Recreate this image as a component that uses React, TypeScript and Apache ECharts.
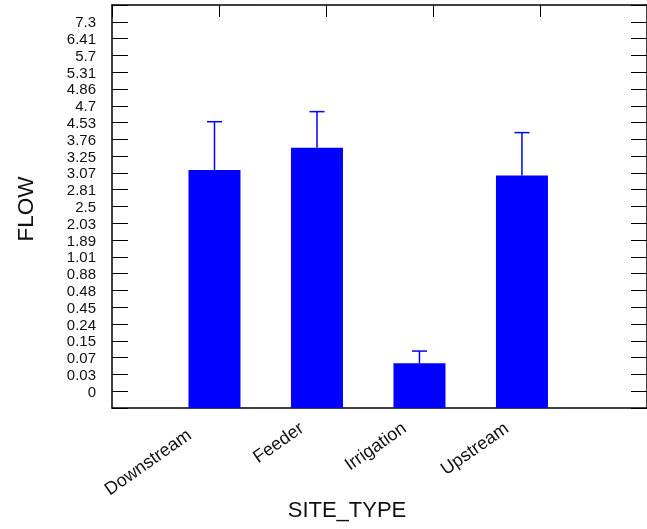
import React, { useEffect, useRef } from "react";
import * as echarts from "echarts";

const categories = ["Downstream", "Feeder", "Irrigation", "Upstream"];
const yTickLabels = [
  "0", "0.03", "0.07", "0.15", "0.24", "0.45", "0.48", "0.88", "1.01", "1.89",
  "2.03", "2.5", "2.81", "3.07", "3.25", "3.76", "4.53", "4.7", "4.86", "5.31",
  "5.7", "6.41", "7.3",
];
// bar tops and error-bar tops, on the ordinal FLOW scale (0 = first tick label)
const barRanks = [13.17, 14.5, 1.66, 12.84];
const errorTopRanks = [16.05, 16.65, 2.39, 15.4];

const FONT = "Liberation Sans, Arial, Helvetica, sans-serif";
const BLUE = "#0000ff";
const RANK_OFFSET = 1; // axis starts one step below the first label

export default function App() {
  const ref = useRef<HTMLDivElement>(null);
  useEffect(() => {
    if (!ref.current) return;
    const chart = echarts.init(ref.current, null, { renderer: "svg" });
    const yMax = yTickLabels.length + 1;
    const barData = categories.map((_, i) => [i + 1, barRanks[i] + RANK_OFFSET]);
    const errData = categories.map((_, i) => [
      i + 1,
      barRanks[i] + RANK_OFFSET,
      errorTopRanks[i] + RANK_OFFSET,
    ]);
    const yLabelFmt = (v: number) => {
      const idx = Math.round(v) - RANK_OFFSET;
      return idx >= 0 && idx < yTickLabels.length && Math.abs(v - Math.round(v)) < 1e-6
        ? yTickLabels[idx]
        : "";
    };
    const axisLine = { show: true, onZero: false, lineStyle: { color: "#000", width: 1.5 } };
    chart.setOption({
      animation: false,
      grid: { left: 112, top: 5, width: 539, height: 403, containLabel: false },
      xAxis: [
        {
          type: "value",
          position: "bottom",
          min: 0,
          max: 5.22,
          interval: 1,
          splitLine: { show: false },
          axisTick: { show: false },
          axisLine,
          axisLabel: {
            show: true,
            rotate: 35,
            margin: 7,
            padding: [0, 19, 0, 0],
            fontSize: 18,
            fontFamily: FONT,
            color: "#111",
            showMinLabel: false,
            showMaxLabel: false,
            rich: {
              first: { fontSize: 18, fontFamily: FONT, color: "#111", padding: [0, 12, 0, 0] },
              other: { fontSize: 18, fontFamily: FONT, color: "#111" },
            },
            formatter: (v: number) => {
              const i = Math.round(v) - 1;
              if (!(Math.abs(v - Math.round(v)) < 1e-6 && i >= 0 && i < categories.length)) return "";
              return i === 0 ? `{first|${categories[i]}}` : `{other|${categories[i]}}`;
            },
          },
        },
        {
          type: "value",
          position: "top",
          min: 0,
          max: 5,
          interval: 1,
          splitLine: { show: false },
          axisLine,
          axisTick: { show: true, inside: true, length: 12, lineStyle: { color: "#000" } },
          axisLabel: { show: false },
        },
      ],
      yAxis: [
        {
          type: "value",
          position: "left",
          min: 0,
          max: yMax,
          interval: 1,
          splitLine: { show: false },
          axisLine,
          axisTick: { show: true, inside: true, length: 16, lineStyle: { color: "#000" } },
          axisLabel: {
            show: true,
            margin: 16,
            fontSize: 15,
            fontFamily: FONT,
            color: "#111",
            formatter: yLabelFmt,
          },
        },
        {
          type: "value",
          position: "right",
          min: 0,
          max: yMax,
          interval: 1,
          splitLine: { show: false },
          axisLine,
          axisTick: { show: true, inside: true, length: 16, lineStyle: { color: "#000" } },
          axisLabel: { show: false },
        },
      ],
      series: [
        {
          type: "bar",
          xAxisIndex: 0,
          yAxisIndex: 0,
          data: barData,
          barWidth: 52,
          itemStyle: { color: BLUE },
        },
        {
          type: "custom",
          xAxisIndex: 0,
          yAxisIndex: 0,
          data: errData,
          encode: { x: 0, y: [1, 2] },
          z: 5,
          renderItem: (params: any, api: any) => {
            const x = api.value(0);
            const p1 = api.coord([x, api.value(1)]);
            const p2 = api.coord([x, api.value(2)]);
            const half = 7.5;
            const style = { stroke: BLUE, lineWidth: 1.5 };
            return {
              type: "group",
              children: [
                { type: "line", shape: { x1: p1[0], y1: p1[1], x2: p2[0], y2: p2[1] }, style },
                { type: "line", shape: { x1: p2[0] - half, y1: p2[1], x2: p2[0] + half, y2: p2[1] }, style },
              ],
            };
          },
        },
      ],
      graphic: [
        {
          type: "text",
          x: 347,
          y: 509,
          style: {
            text: "SITE_TYPE",
            fontSize: 22,
            fontFamily: FONT,
            fill: "#111",
            textAlign: "center",
            textVerticalAlign: "middle",
          },
        },
        {
          type: "text",
          x: 25,
          y: 209,
          rotation: Math.PI / 2,
          style: {
            text: "FLOW",
            fontSize: 22.5,
            fontFamily: FONT,
            fill: "#111",
            textAlign: "center",
            textVerticalAlign: "middle",
          },
        },
      ],
    });
    return () => chart.dispose();
  }, []);
  return (
    <div
      ref={ref}
      style={{ position: "fixed", left: 0, top: 0, width: 647, height: 529 }}
    />
  );
}
